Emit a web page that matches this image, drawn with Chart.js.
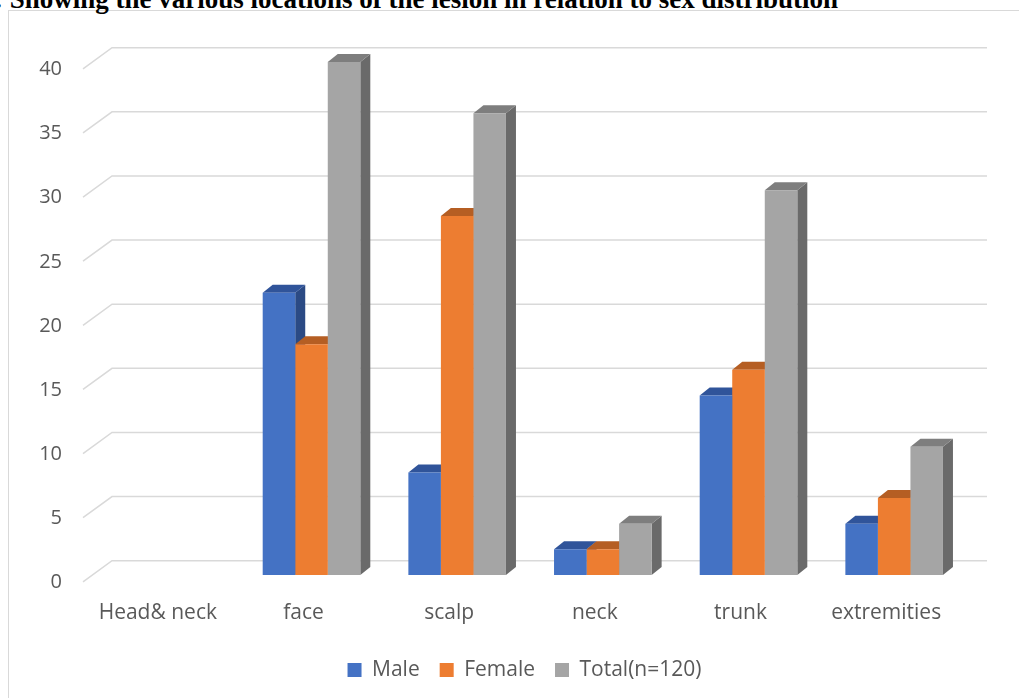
<!DOCTYPE html>
<html>
<head>
<meta charset="utf-8">
<script src="https://cdn.jsdelivr.net/npm/chart.js@4/dist/chart.umd.min.js"></script>
<style>
  html, body { margin: 0; padding: 0; background: #fff; overflow: hidden; }
  #wrap { position: relative; width: 1019px; height: 698px; overflow: hidden; }
  #frame { position: absolute; left: 8px; top: 10px; width: 1100px; height: 800px; border: 1px solid #d9d9d9; }
  #title {
    position: absolute; right: 181px; top: -14px; white-space: nowrap;
    font: bold 27px "Liberation Serif", "Times New Roman", serif; line-height: 1; color: #000;
  }
  #chart { position: absolute; left: 0; top: 0; }
</style>
</head>
<body>
<div id="wrap">
  <div id="frame"></div>
  <div id="title">Figure 1: Showing the various locations of the lesion in relation to sex distribution</div>
  <canvas id="chart" width="1019" height="698"></canvas>
</div>
<script>
// Data
const categories = ['Head& neck', 'face', 'scalp', 'neck', 'trunk', 'extremities'];
const maleValues = [null, 22, 8, 2, 14, 4];
const femaleValues = [null, 18, 28, 2, 16, 6];
const totalValues = [null, 40, 36, 4, 30, 10];
const seriesNames = ['Male', 'Female', 'Total(n=120)'];

// Styling
const frontColors = ['#4472C4', '#ED7D31', '#A5A5A5'];
const topColors = ['#30549A', '#B55E23', '#7E7E7E'];
const sideColors = ['#2B4A84', '#A85720', '#6A6A6A'];
const textColor = '#595959';
const DEPTH_X = 10;
const DEPTH_Y = -8;

// Back wall gridlines with the diagonal side-wall segment, plus the bar depth faces
const depthPlugin = {
    id: 'depth3d',
    afterLayout(chart) {
        // Legend in the reference sits a little right of the canvas centre
        chart.legend.left += 41;
        chart.legend.right += 41;
        chart.legend.top -= 7.5;
        chart.legend.bottom -= 7.5;
    },
    beforeDatasetsDraw(chart) {
        const ctx = chart.ctx;
        const yScale = chart.scales.y;
        const area = chart.chartArea;

        ctx.save();
        ctx.strokeStyle = '#d9d9d9';
        ctx.lineWidth = 1.5;
        yScale.ticks.forEach(t => {
            const py = yScale.getPixelForValue(t.value);
            const back = py - 14.3;
            const front = py + 6.8;
            ctx.beginPath();
            ctx.moveTo(area.left - 10, front);
            ctx.lineTo(area.left + 19, back);
            ctx.lineTo(area.right + 20, back);
            ctx.stroke();
        });

        chart.data.datasets.forEach((ds, di) => {
            const meta = chart.getDatasetMeta(di);
            meta.data.forEach((el, i) => {
                if (ds.data[i] === null || ds.data[i] === undefined) { return; }
                const p = el.getProps(['x', 'y', 'base', 'width'], true);
                const left = p.x - p.width / 2;
                const right = p.x + p.width / 2;

                // side face
                ctx.fillStyle = sideColors[di];
                ctx.beginPath();
                ctx.moveTo(right, p.y);
                ctx.lineTo(right + DEPTH_X, p.y + DEPTH_Y);
                ctx.lineTo(right + DEPTH_X, p.base + DEPTH_Y);
                ctx.lineTo(right, p.base);
                ctx.closePath();
                ctx.fill();

                // top face
                ctx.fillStyle = topColors[di];
                ctx.beginPath();
                ctx.moveTo(left, p.y);
                ctx.lineTo(left + DEPTH_X, p.y + DEPTH_Y);
                ctx.lineTo(right + DEPTH_X, p.y + DEPTH_Y);
                ctx.lineTo(right, p.y);
                ctx.closePath();
                ctx.fill();
            });
        });
        ctx.restore();
    }
};

const seriesValues = [maleValues, femaleValues, totalValues];

new Chart(document.getElementById('chart'), {
    type: 'bar',
    data: {
        labels: categories,
        datasets: seriesNames.map((name, i) => ({
            label: name,
            data: seriesValues[i],
            backgroundColor: frontColors[i],
            borderWidth: 0,
            barPercentage: 1,
            categoryPercentage: 0.67
        }))
    },
    options: {
        responsive: false,
        animation: false,
        events: [],
        layout: {
            padding: { top: 62, right: 52, bottom: 0, left: 0 }
        },
        scales: {
            x: {
                grid: { display: false, drawTicks: false },
                border: { display: false },
                ticks: {
                    color: textColor,
                    font: { family: 'Open Sans', size: 21 },
                    padding: 25,
                    labelOffset: -8,
                    maxRotation: 0,
                    autoSkip: false
                },
                afterFit(scale) { scale.height = 72; }
            },
            y: {
                min: 0,
                max: 40,
                grid: { display: false, drawTicks: false },
                border: { display: false },
                ticks: {
                    stepSize: 5,
                    color: textColor,
                    font: { family: 'Open Sans', size: 20 },
                    padding: 31,
                    labelOffset: 7.5
                },
                afterFit(scale) { scale.width = 93; }
            }
        },
        plugins: {
            legend: {
                position: 'bottom',
                labels: {
                    boxWidth: 14,
                    boxHeight: 14,
                    padding: 20,
                    color: textColor,
                    font: { family: 'Open Sans', size: 21 }
                }
            },
            tooltip: { enabled: false }
        }
    },
    plugins: [depthPlugin]
});
</script>
</body>
</html>
